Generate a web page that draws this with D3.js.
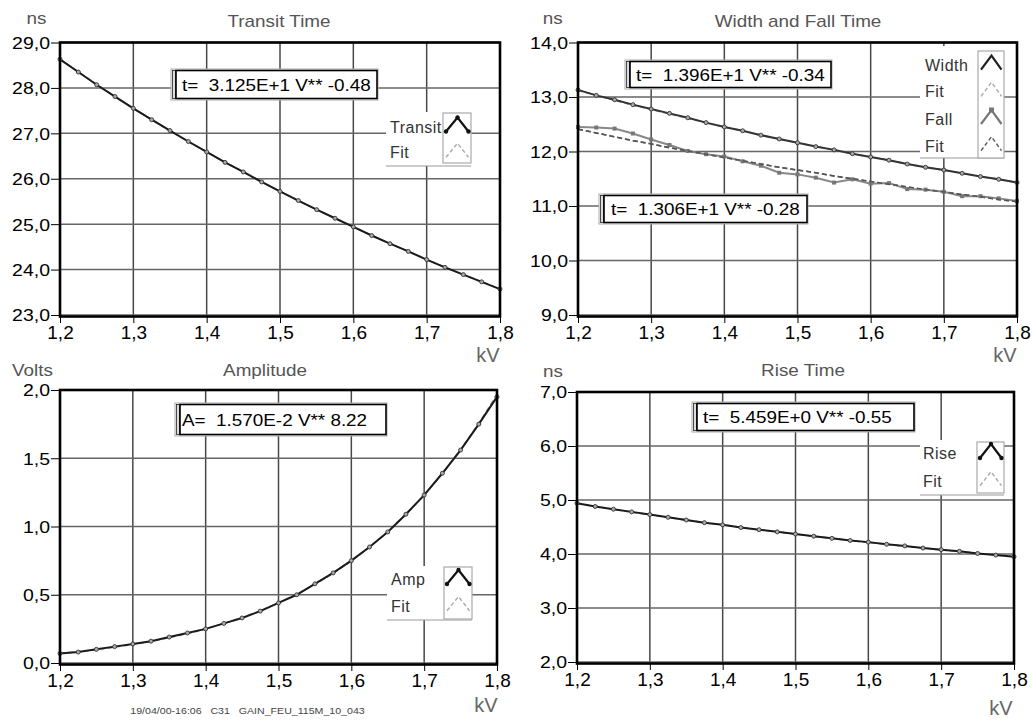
<!DOCTYPE html>
<html><head><meta charset="utf-8">
<script src="https://cdn.jsdelivr.net/npm/d3@7"></script>
<style>
body{margin:0;background:#fff}
svg{display:block}
text{font-family:"Liberation Sans",Arial,sans-serif;white-space:pre}
</style>
</head><body>
<svg id="c" width="1033" height="722"></svg>
<script>
// ---------- data ----------
const kV = [1.2,1.225,1.25,1.275,1.3,1.325,1.35,1.375,1.4,1.425,1.45,1.475,1.5,1.525,1.55,1.575,1.6,1.625,1.65,1.675,1.7,1.725,1.75,1.775,1.8];
const xTicks = [1.2,1.3,1.4,1.5,1.6,1.7,1.8];

const transit    = [28.63,28.35,28.07,27.81,27.55,27.30,27.06,26.82,26.59,26.36,26.15,25.93,25.72,25.52,25.32,25.13,24.94,24.75,24.57,24.40,24.22,24.05,23.89,23.73,23.57];
const transitFit = [28.63,28.35,28.08,27.81,27.55,27.30,27.06,26.82,26.59,26.37,26.15,25.93,25.72,25.52,25.32,25.13,24.94,24.75,24.57,24.40,24.22,24.05,23.89,23.73,23.57];

const width    = [13.13,13.03,12.95,12.86,12.78,12.70,12.62,12.53,12.45,12.38,12.30,12.23,12.16,12.09,12.03,11.96,11.90,11.84,11.77,11.71,11.66,11.60,11.54,11.49,11.43];
const widthFit = [13.12,13.03,12.94,12.85,12.77,12.69,12.61,12.53,12.45,12.38,12.30,12.23,12.16,12.09,12.03,11.96,11.90,11.84,11.77,11.71,11.66,11.60,11.54,11.49,11.43];
const fall     = [12.45,12.44,12.42,12.33,12.22,12.12,12.01,11.95,11.91,11.82,11.74,11.61,11.58,11.52,11.43,11.49,11.41,11.42,11.31,11.30,11.26,11.18,11.18,11.14,11.09];
const fallFit  = [12.41,12.34,12.27,12.20,12.14,12.07,12.01,11.95,11.89,11.83,11.77,11.71,11.66,11.61,11.55,11.50,11.45,11.40,11.35,11.30,11.26,11.21,11.17,11.12,11.08];

const amp    = [0.07,0.08,0.10,0.12,0.14,0.16,0.19,0.22,0.25,0.29,0.33,0.38,0.44,0.50,0.58,0.66,0.75,0.85,0.96,1.09,1.23,1.39,1.56,1.75,1.95];
const ampFit = [0.070,0.083,0.098,0.116,0.136,0.159,0.185,0.215,0.250,0.289,0.333,0.383,0.440,0.504,0.576,0.657,0.748,0.849,0.963,1.090,1.231,1.388,1.562,1.755,1.969];

const rise    = [4.94,4.88,4.83,4.78,4.73,4.68,4.63,4.58,4.54,4.49,4.45,4.41,4.37,4.33,4.29,4.25,4.22,4.18,4.15,4.11,4.08,4.05,4.01,3.98,3.95];
const riseFit = [4.938,4.882,4.828,4.776,4.725,4.676,4.628,4.582,4.537,4.493,4.450,4.408,4.368,4.328,4.290,4.252,4.215,4.180,4.145,4.111,4.077,4.045,4.013,3.982,3.951];

const ticksTransit = [23,24,25,26,27,28,29];
const ticksWidth   = [9,10,11,12,13,14];
const ticksAmp     = [0,0.5,1.0,1.5,2.0];
const ticksRise    = [2,3,4,5,6,7];

const titles = ["Transit Time","Width and Fall Time","Amplitude","Rise Time"];
const units  = ["ns","ns","Volts","ns"];
const formulas = ["t=  3.125E+1 V** -0.48","t=  1.396E+1 V** -0.34","t=  1.306E+1 V** -0.28","A=  1.570E-2 V** 8.22","t=  5.459E+0 V** -0.55"];
const footer = "19/04/00-16:06   C31   GAIN_FEU_115M_10_043";

// ---------- drawing ----------
const SX = 1.18;
const svg = d3.select('#c');
svg.append('rect').attr('width',1033).attr('height',722).attr('fill','#fff');
const fmt = v => d3.format('.1f')(v).replace('.', ',');

function stext(g, x, y, s, size, color, anchor, sx) {
  return g.append('text')
    .attr('transform', `translate(${x},${y}) scale(${sx===undefined?SX:sx},1)`)
    .attr('text-anchor', anchor || 'start')
    .attr('font-size', size).attr('fill', color).text(s);
}

function panel(cfg) {
  const g = svg.append('g');
  const x = d3.scaleLinear().domain([1.2,1.8]).range([cfg.x0, cfg.x1]);
  const y = d3.scaleLinear().domain([cfg.yTicks[0], cfg.yTicks[cfg.yTicks.length-1]]).range([cfg.yb, cfg.yt]);

  // grid
  g.append('g').selectAll('line').data(xTicks.slice(1,-1)).join('line')
    .attr('x1', d=>x(d)).attr('x2', d=>x(d)).attr('y1', cfg.yt).attr('y2', cfg.yb)
    .attr('stroke','#484848').attr('stroke-width',1.5);
  g.append('g').selectAll('line').data(cfg.yTicks).join('line')
    .attr('x1', cfg.x0).attr('x2', cfg.x1).attr('y1', d=>y(d)).attr('y2', d=>y(d))
    .attr('stroke','#666').attr('stroke-width',1.5);

  // y axis
  g.append('g').attr('transform',`translate(${cfg.x0},0)`)
    .call(d3.axisLeft(y).tickValues(cfg.yTicks).tickSize(9).tickPadding(2).tickFormat(fmt))
    .call(a => a.select('.domain').remove())
    .call(a => a.selectAll('line').attr('stroke','#000'))
    .call(a => a.selectAll('text').attr('font-size',16.5).attr('fill','#000')
       .attr('font-family','"Liberation Sans",Arial,sans-serif')
       .attr('x', -10/SX).attr('dy','0.36em').attr('transform',`scale(${SX},1)`));
  // x axis
  g.append('g').attr('transform',`translate(0,${cfg.yb})`)
    .call(d3.axisBottom(x).tickValues(xTicks).tickSize(8).tickPadding(2).tickFormat(fmt))
    .call(a => a.select('.domain').remove())
    .call(a => a.selectAll('line').attr('stroke','#000'))
    .call(a => a.selectAll('text').attr('font-size',19).attr('fill','#000')
       .attr('font-family','"Liberation Sans",Arial,sans-serif')
       .attr('y', 11).attr('dy','0.71em'));

  // titles
  stext(g, cfg.titleX, cfg.titleY, cfg.title, 16, '#555', 'middle');
  stext(g, cfg.unitX, cfg.unitY, cfg.unit, 16, '#555', 'start');
  stext(g, cfg.kvX, cfg.kvY, 'kV', 20, '#666', 'middle', 1);

  // series
  const line = vals => d3.line().x((d,i)=>x(kV[i])).y(d=>y(d))(vals);
  cfg.series.forEach(s => {
    g.append('path').attr('d', line(s.fit)).attr('fill','none')
      .attr('stroke', s.fitColor).attr('stroke-width',1.6).attr('stroke-dasharray','5,3');
    g.append('path').attr('d', line(s.data)).attr('fill','none')
      .attr('stroke', s.color).attr('stroke-width',2);
    if (s.square) {
      g.append('g').selectAll('rect').data(s.data).join('rect')
        .attr('x',(d,i)=>x(kV[i])-2).attr('y',d=>y(d)-2).attr('width',4).attr('height',4)
        .attr('fill', '#777');
    } else {
      g.append('g').selectAll('circle').data(s.data).join('circle')
        .attr('cx',(d,i)=>x(kV[i])).attr('cy',d=>y(d)).attr('r',2)
        .attr('fill','#aaa').attr('stroke','#333').attr('stroke-width',0.9);
    }
    if (s.fitOver) {
      g.append('path').attr('d', line(s.fit)).attr('fill','none')
        .attr('stroke', s.fitColor).attr('stroke-width',1.4).attr('stroke-dasharray','5,3');
    }
  });

  // frame
  g.append('rect').attr('x',cfg.x0).attr('y',cfg.yt).attr('width',cfg.x1-cfg.x0).attr('height',cfg.yb-cfg.yt+1.5)
    .attr('fill','none').attr('stroke','#000').attr('stroke-width',2.6);

  // formula boxes
  cfg.boxes.forEach(b => {
    g.append('rect').attr('x',b.x).attr('y',b.y).attr('width',b.w).attr('height',b.h)
      .attr('fill','#fff').attr('stroke','#aaa').attr('stroke-width',1);
    g.append('rect').attr('x',b.x+1.5).attr('y',b.y+1.5).attr('width',3).attr('height',b.h-3)
      .attr('fill','#ddd').attr('stroke','#222').attr('stroke-width',0.8);
    g.append('rect').attr('x',b.x+5).attr('y',b.y+1.5).attr('width',b.w-6).attr('height',b.h-3)
      .attr('fill','none').attr('stroke','#000').attr('stroke-width',1.6);
    stext(g, b.x+b.tx, b.y+b.h/2+6, b.text, 16, '#000', 'start');
  });

  // legend
  const L = cfg.legend;
  g.append('rect').attr('x',L.x).attr('y',L.y).attr('width',L.w).attr('height',L.h).attr('fill','#fff');
  g.append('line').attr('x1',L.x).attr('x2',L.x+L.w).attr('y1',L.y+L.h).attr('y2',L.y+L.h)
    .attr('stroke','#999').attr('stroke-width',1.2);
  g.append('rect').attr('x',L.bx).attr('y',L.by).attr('width',L.bw).attr('height',L.bh)
    .attr('fill','#fff').attr('stroke','#aaa').attr('stroke-width',1.2);
  L.rows.forEach(r => {
    g.append('text').attr('x',L.lx).attr('y',r.y).attr('font-size',16).attr('fill','#333')
      .attr('letter-spacing',0.5).text(r.label);
    const xa = L.bx+3, xm = L.bx+L.bw/2+0.5, xb = L.bx+L.bw-2.5;
    const pts = [[xa,r.y-1],[xm,r.y-15],[xb,r.y-1]];
    g.append('path').attr('d', d3.line()(pts)).attr('fill','none')
      .attr('stroke', r.color).attr('stroke-width', r.dash ? 1.4 : 2.2)
      .attr('stroke-dasharray', r.dash ? '4,2.5' : null);
    if (r.dots) {
      g.append('g').selectAll('circle').data(pts).join('circle')
        .attr('cx',d=>d[0]).attr('cy',d=>d[1]).attr('r',2.2).attr('fill',r.color);
    }
    if (r.sq) {
      g.append('rect').attr('x',xm-2.5).attr('y',r.y-17.5).attr('width',5).attr('height',5).attr('fill',r.color);
    }
  });
}

panel({
  x0:60, x1:500, yb:315, yt:42.5, yTicks:ticksTransit,
  title:titles[0], titleX:279, titleY:26.7, unit:units[0], unitX:26.5, unitY:24,
  kvX:488, kvY:362,
  series:[{data:transit, fit:transitFit, color:'#1a1a1a', fitColor:'#999'}],
  boxes:[{x:171,y:69,w:207,h:31,tx:11,text:formulas[0]}],
  legend:{x:386,y:112,w:85,h:54, bx:443,by:113,bw:28,bh:50, lx:390,
    rows:[{label:'Transit',y:132.5,color:'#111',dots:true},{label:'Fit',y:158.3,color:'#aaa',dash:true}]}
});

panel({
  x0:578, x1:1017, yb:315, yt:42.5, yTicks:ticksWidth,
  title:titles[1], titleX:798, titleY:26.7, unit:units[1], unitX:542.7, unitY:24,
  kvX:1005, kvY:362,
  series:[
    {data:width, fit:widthFit, color:'#333', fitColor:'#999'},
    {data:fall, fit:fallFit, color:'#888', fitColor:'#555', square:true, fitOver:true}
  ],
  boxes:[{x:625,y:60,w:207,h:29,tx:11,text:formulas[1]},
         {x:599,y:194,w:209,h:30,tx:12,text:formulas[2]}],
  legend:{x:920,y:46,w:84,h:112, bx:978,by:51,bw:26,bh:107, lx:925,
    rows:[{label:'Width',y:70.7,color:'#222',dots:false},
          {label:'Fit',y:97.3,color:'#aaa',dash:true},
          {label:'Fall',y:125,color:'#777',sq:true},
          {label:'Fit',y:151.7,color:'#555',dash:true}]}
});

panel({
  x0:60, x1:497, yb:663, yt:390, yTicks:ticksAmp,
  title:titles[2], titleX:265, titleY:376, unit:units[2], unitX:12, unitY:376,
  kvX:486, kvY:712,
  series:[{data:amp, fit:ampFit, color:'#1a1a1a', fitColor:'#999'}],
  boxes:[{x:175,y:403,w:212,h:33,tx:7,text:formulas[3]}],
  legend:{x:387,y:566,w:85,h:54, bx:444,by:567,bw:28,bh:52, lx:391,
    rows:[{label:'Amp',y:585,color:'#111',dots:true},{label:'Fit',y:611.7,color:'#aaa',dash:true}]}
});

panel({
  x0:577, x1:1014, yb:662, yt:392, yTicks:ticksRise,
  title:titles[3], titleX:803, titleY:376, unit:units[3], unitX:543, unitY:376.7,
  kvX:1001, kvY:715,
  series:[{data:rise, fit:riseFit, color:'#1a1a1a', fitColor:'#999'}],
  boxes:[{x:692,y:402,w:223,h:30,tx:11,text:formulas[4]}],
  legend:{x:920,y:440,w:84,h:55, bx:977,by:442,bw:27,bh:51, lx:923,
    rows:[{label:'Rise',y:459,color:'#111',dots:true},{label:'Fit',y:486.7,color:'#aaa',dash:true}]}
});

stext(svg, 247.5, 714, footer, 9, '#444', 'middle');
</script>
</body></html>
